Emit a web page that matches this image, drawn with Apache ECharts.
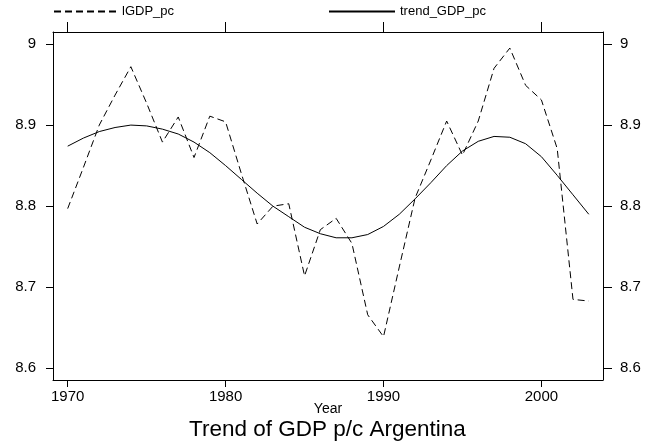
<!DOCTYPE html>
<html>
<head>
<meta charset="utf-8">
<script src="https://cdn.jsdelivr.net/npm/echarts@6/dist/echarts.min.js"></script>
<style>
html,body{margin:0;padding:0;background:#fff;}
#chart{width:647px;height:445px;}
</style>
</head>
<body>
<div id="chart"></div>
<script>
const years = [1970,1971,1972,1973,1974,1975,1976,1977,1978,1979,1980,1981,1982,1983,1984,1985,1986,1987,1988,1989,1990,1991,1992,1993,1994,1995,1996,1997,1998,1999,2000,2001,2002,2003];
const lGDP_pc = [8.797,8.848,8.900,8.937,8.972,8.927,8.879,8.910,8.860,8.911,8.904,8.840,8.778,8.800,8.803,8.714,8.771,8.785,8.754,8.666,8.639,8.725,8.810,8.857,8.905,8.863,8.905,8.970,8.995,8.949,8.931,8.871,8.685,8.683];
const trend_GDP_pc = [8.874,8.884,8.892,8.897,8.900,8.899,8.895,8.889,8.879,8.866,8.850,8.833,8.816,8.800,8.787,8.774,8.766,8.761,8.761,8.765,8.775,8.790,8.809,8.829,8.850,8.868,8.880,8.886,8.885,8.877,8.861,8.838,8.814,8.790];
const xTicks = [1970,1980,1990,2000];
const yTicks = [8.6,8.7,8.8,8.9,9];
const seriesNames = ['lGDP_pc','trend_GDP_pc'];
const titleText = 'Trend of GDP p/c Argentina';
const xName = 'Year';

const FONT = "'Liberation Sans', Arial, Helvetica, sans-serif";
const chart = echarts.init(document.getElementById('chart'), null, {renderer:'canvas'});
const fmtY = v => String(parseFloat(Number(v).toFixed(2)));
const fmtX = v => String(Math.round(v));
const axisLineStyle = {color:'#000', width:1};
const legendCommon = {
  top: 5, padding: 0, itemHeight: 14,
  itemStyle: {opacity: 0},
  textStyle: {fontFamily: FONT, fontSize: 13, color:'#000'}
};

const option = {
  animation: false,
  backgroundColor: '#fff',
  textStyle: {fontFamily: FONT, color:'#000'},
  title: {
    text: titleText,
    left: 189, top: 418, padding: 0,
    textStyle: {fontFamily: FONT, fontSize: 22.5, fontWeight: 'normal', color:'#000'}
  },
  legend: [
    Object.assign({data:[seriesNames[0]], left: 53, itemWidth: 63}, legendCommon),
    Object.assign({data:[seriesNames[1]], left: 328, itemWidth: 66}, legendCommon)
  ],
  grid: {left: 53, right: 44, top: 32, bottom: 65, containLabel: false, outerBoundsMode: 'none'},
  xAxis: [
    {
      type: 'value', position: 'bottom', min: 1969.07, max: 2003.9,
      name: xName, nameLocation: 'middle', nameGap: 22, nameMoveOverlap: false,
      nameTextStyle: {fontFamily: FONT, fontSize: 14, color:'#000'},
      axisLine: {show:true, onZero:false, lineStyle: axisLineStyle},
      axisTick: {show:true, inside:false, length:7, lineStyle: axisLineStyle, customValues: xTicks},
      axisLabel: {show:true, margin: 9, fontFamily: FONT, fontSize: 15, color:'#000', customValues: xTicks, formatter: fmtX},
      splitLine: {show:false}
    },
    {
      type: 'value', position: 'top', min: 1969.07, max: 2003.9,
      axisLine: {show:true, onZero:false, lineStyle: axisLineStyle},
      axisTick: {show:true, inside:false, length:10, lineStyle: axisLineStyle, customValues: xTicks},
      axisLabel: {show:false},
      splitLine: {show:false}
    }
  ],
  yAxis: [
    {
      type: 'value', position: 'left', min: 8.5856, max: 9.0148,
      axisLine: {show:true, onZero:false, lineStyle: axisLineStyle},
      axisTick: {show:true, inside:false, length:7, lineStyle: axisLineStyle, customValues: yTicks},
      axisLabel: {show:true, margin: 17, fontFamily: FONT, fontSize: 15, color:'#000', customValues: yTicks, formatter: fmtY},
      splitLine: {show:false}
    },
    {
      type: 'value', position: 'right', min: 8.5856, max: 9.0148,
      axisLine: {show:true, onZero:false, lineStyle: axisLineStyle},
      axisTick: {show:true, inside:false, length:9, lineStyle: axisLineStyle, customValues: yTicks},
      axisLabel: {show:true, margin: 17, fontFamily: FONT, fontSize: 15, color:'#000', customValues: yTicks, formatter: fmtY},
      splitLine: {show:false}
    }
  ],
  series: [
    {
      name: seriesNames[0], type: 'line', xAxisIndex: 0, yAxisIndex: 0,
      data: years.map((y,i)=>[y, lGDP_pc[i]]),
      symbol: 'none', smooth: false,
      itemStyle: {color:'#000'},
      lineStyle: {color:'#000', width: 1, type: [7,4]}
    },
    {
      name: seriesNames[1], type: 'line', xAxisIndex: 0, yAxisIndex: 0,
      data: years.map((y,i)=>[y, trend_GDP_pc[i]]),
      symbol: 'none', smooth: false,
      itemStyle: {color:'#000'},
      lineStyle: {color:'#000', width: 1, type: 'solid'}
    }
  ]
};
chart.setOption(option);
</script>
</body>
</html>
